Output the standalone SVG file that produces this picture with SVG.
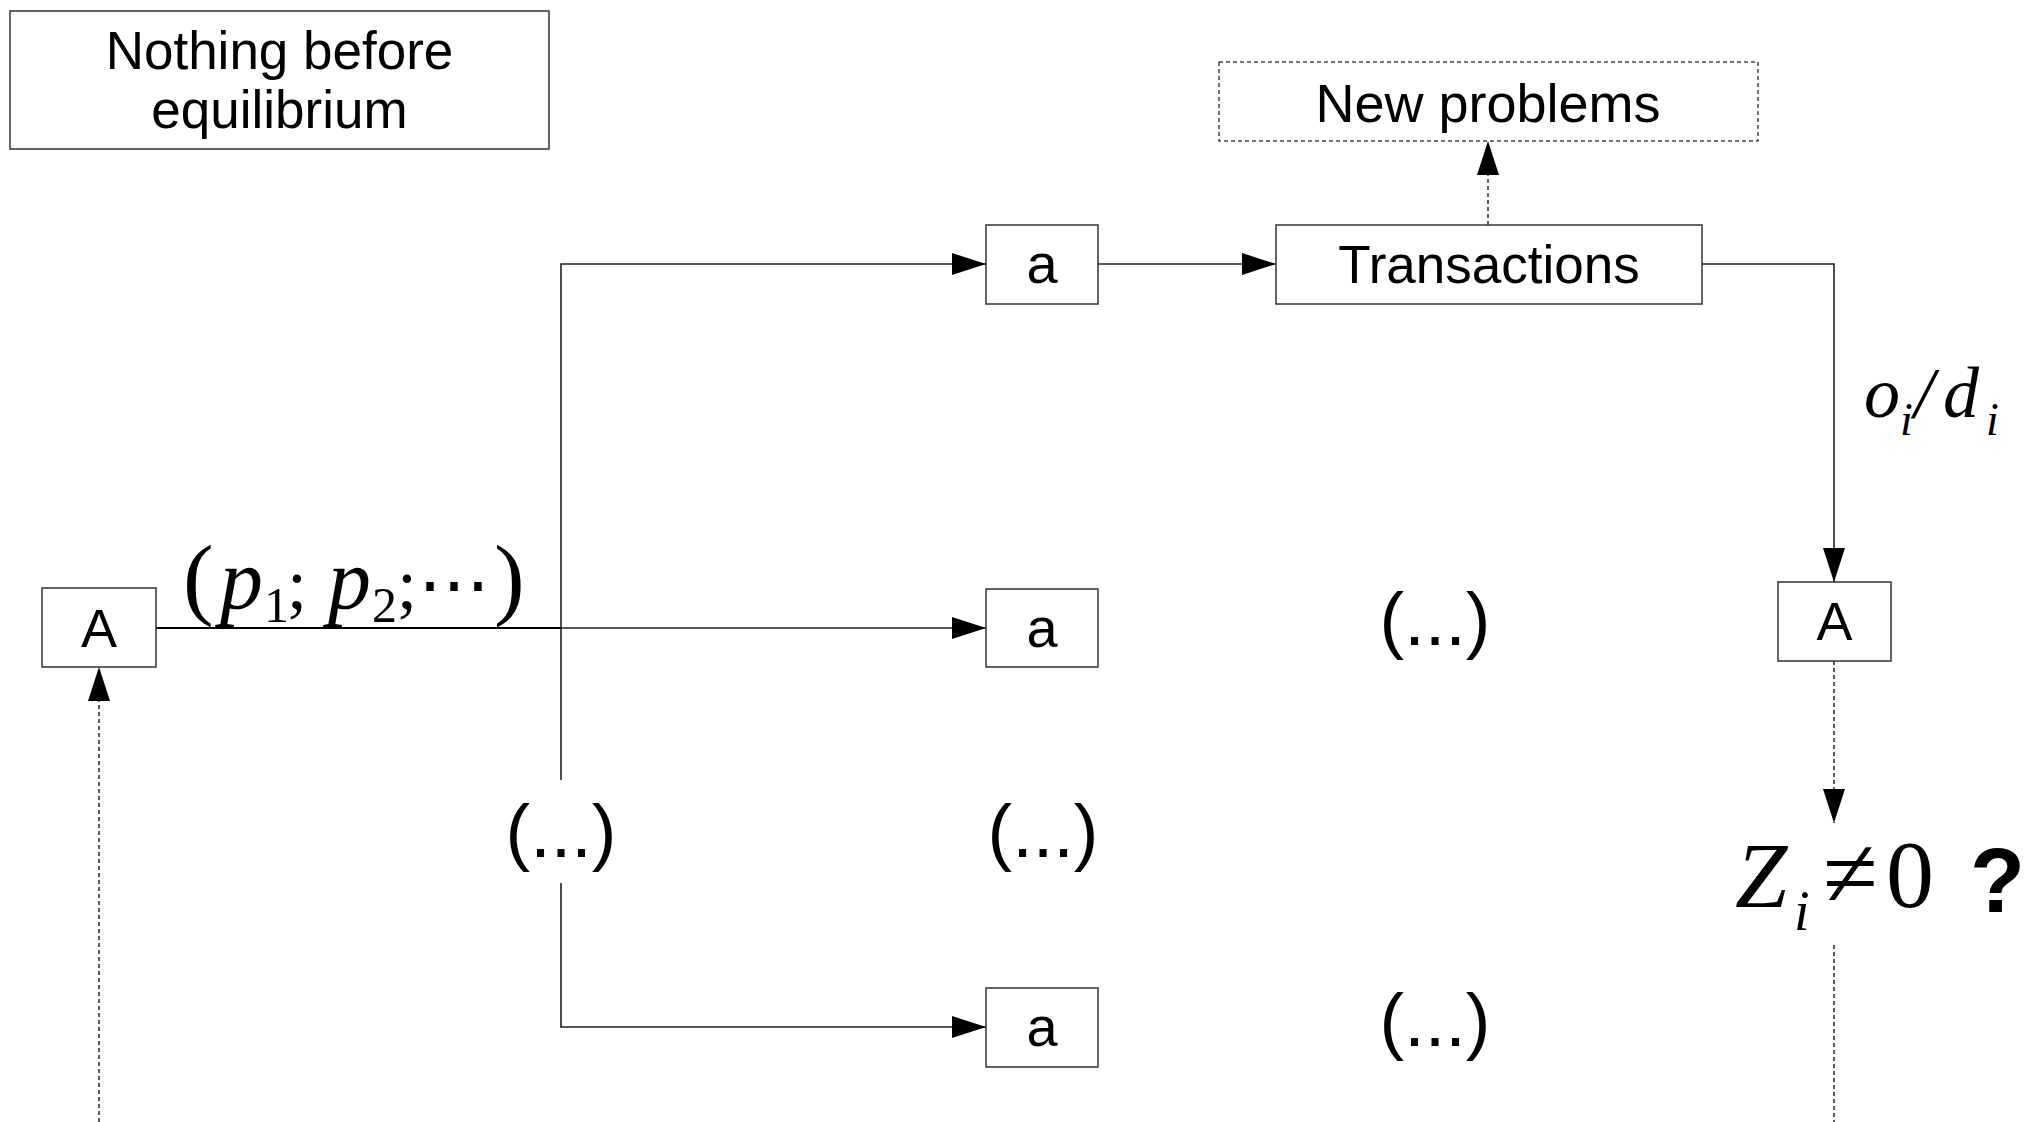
<svg xmlns="http://www.w3.org/2000/svg" width="2031" height="1122" viewBox="0 0 2031 1122">
<style>
.box{fill:#fff;stroke:#333;stroke-width:1.5}
.dbox{fill:#fff;stroke:#444;stroke-width:1.5;stroke-dasharray:4 3}
.ln{fill:none;stroke:#222;stroke-width:1.6}
.dl{fill:none;stroke:#333;stroke-width:1.6;stroke-dasharray:4 3}
.t{font-family:"Liberation Sans",Arial,sans-serif;fill:#000;text-anchor:middle}
.m{font-family:"Liberation Serif","Times New Roman",serif;fill:#000}
.i{font-style:italic}
</style>
<defs>
<marker id="arr" markerWidth="34" markerHeight="22" refX="34" refY="11" orient="auto" markerUnits="userSpaceOnUse">
<path d="M0,0 L34,11 L0,22 z" fill="#000"/>
</marker>
</defs>
<rect width="2031" height="1122" fill="#fff"/>

<g id="connectors">
<path class="ln" d="M156,628 H561" style="stroke:#000;stroke-width:2"/>
<path class="ln" d="M561,628 H986" marker-end="url(#arr)"/>
<path class="ln" d="M561,780 V264 H986" marker-end="url(#arr)"/>
<path class="ln" d="M561,883 V1027 H986" marker-end="url(#arr)"/>
<path class="ln" d="M1098,264 H1276" marker-end="url(#arr)"/>
<path class="ln" d="M1702,264 H1834 V582" marker-end="url(#arr)"/>
<path class="dl" d="M1488,225 V141" marker-end="url(#arr)"/>
<path class="dl" d="M1834,661 V823" marker-end="url(#arr)"/>
<path class="dl" d="M1834,945 V1122"/>
<path class="dl" d="M99,1122 V667" marker-end="url(#arr)"/>
</g>

<g id="nothing-before-equilibrium">
<rect class="box" x="10" y="11" width="539" height="138"/>
<text class="t" x="279.5" y="69" font-size="53">Nothing before</text>
<text class="t" x="279.5" y="128" font-size="53">equilibrium</text>
</g>

<g id="new-problems">
<rect class="dbox" x="1219" y="62" width="539" height="79"/>
<text class="t" x="1488" y="122" font-size="54">New problems</text>
</g>

<g id="transactions">
<rect class="box" x="1276" y="225" width="426" height="79"/>
<text class="t" x="1489" y="283" font-size="53">Transactions</text>
</g>

<g id="a-top">
<rect class="box" x="986" y="225" width="112" height="79"/>
<text class="t" x="1042" y="283" font-size="56">a</text>
</g>
<g id="a-middle">
<rect class="box" x="986" y="589" width="112" height="78"/>
<text class="t" x="1042" y="647" font-size="56">a</text>
</g>
<g id="a-bottom">
<rect class="box" x="986" y="988" width="112" height="79"/>
<text class="t" x="1042" y="1046" font-size="56">a</text>
</g>

<g id="A-left">
<rect class="box" x="42" y="588" width="114" height="79"/>
<text class="t" x="99" y="647" font-size="54">A</text>
</g>
<g id="A-right">
<rect class="box" x="1778" y="582" width="113" height="79"/>
<text class="t" x="1834.5" y="640" font-size="54">A</text>
</g>

<g id="prices-label">
<text class="m"><tspan x="183" y="608" font-size="92">(</tspan><tspan class="i" x="220" y="608" font-size="86">p</tspan><tspan x="264" y="622" font-size="50">1</tspan><tspan x="287" y="608" font-size="72">;</tspan><tspan class="i" x="328" y="608" font-size="86">p</tspan><tspan x="372" y="622" font-size="50">2</tspan><tspan x="397" y="608" font-size="72">;</tspan><tspan x="418" y="608" font-size="72" style="font-family:'DejaVu Serif',serif">⋯</tspan><tspan x="494" y="608" font-size="92">)</tspan></text>
</g>

<g id="flow-label">
<text class="m i"><tspan x="1864" y="417" font-size="72">o</tspan><tspan x="1900" y="435" font-size="46">i</tspan><tspan x="1914" y="417" font-size="72">/</tspan><tspan x="1943" y="417" font-size="72">d</tspan><tspan x="1986" y="435" font-size="46">i</tspan></text>
</g>

<g id="question">
<text class="m"><tspan class="i" x="1735" y="907" font-size="94">Z</tspan><tspan class="i" x="1794" y="930" font-size="56">i</tspan><tspan x="1823" y="907" font-size="100">≠</tspan><tspan x="1886" y="907" font-size="96">0</tspan></text>
<text x="1970" y="912" font-size="90" font-weight="bold" style="font-family:'Liberation Sans',Arial,sans-serif">?</text>
</g>

<g id="ellipses">
<text class="t" x="1435" y="645" font-size="74">(...)</text>
<text class="t" x="561" y="857" font-size="74">(...)</text>
<text class="t" x="1043" y="857" font-size="74">(...)</text>
<text class="t" x="1435" y="1046" font-size="74">(...)</text>
</g>
</svg>
